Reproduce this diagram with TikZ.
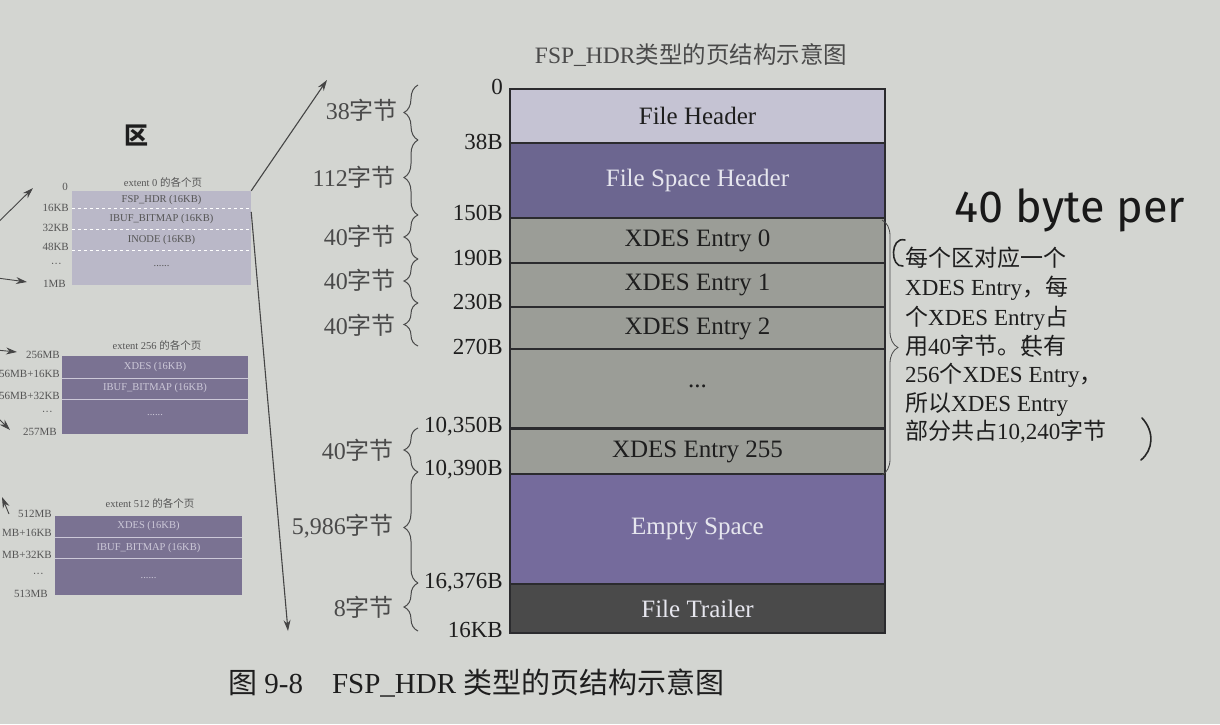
\documentclass[tikz,border=0pt]{standalone}
\usepackage{fontspec}
\setmainfont{Liberation Serif}
\newfontfamily\cjk{Noto Sans CJK SC}
\newfontfamily\hand{Fira Sans}
\usetikzlibrary{arrows.meta,decorations.pathreplacing,calc}

\newcommand\zj{{\cjk 字节}}

\definecolor{paper}{HTML}{D3D5D1}
\definecolor{rowline}{HTML}{2B2B2E}
\definecolor{fhfill}{HTML}{C5C3D3}
\definecolor{fshfill}{HTML}{6C6690}
\definecolor{xdfill}{HTML}{9B9D97}
\definecolor{esfill}{HTML}{756B9C}
\definecolor{ftfill}{HTML}{4A4A4A}
\definecolor{darktext}{HTML}{1E1E1E}
\definecolor{lighttext}{HTML}{E6E6EE}
\definecolor{sztext}{HTML}{4A4A4A}
\definecolor{arrowcol}{HTML}{454545}
\definecolor{ezfill}{HTML}{BAB8C8}
\definecolor{emfill}{HTML}{7A7292}
\definecolor{eptext}{HTML}{CCC8D8}
\definecolor{minitext}{HTML}{555555}

\tikzset{
  row/.style={draw=rowline, line width=1.8pt, minimum width=375pt, inner sep=0pt,
    font=\fontsize{25}{29}\selectfont},
  off/.style={anchor=east, inner sep=0pt, text=darktext, font=\fontsize{23}{27}\selectfont},
  sz/.style={anchor=east, inner sep=0pt, text=sztext, font=\fontsize{24}{28}\selectfont},
  lbrace/.style={decorate, decoration={brace, amplitude=14pt}, line width=1pt, draw=sztext},
  rbrace/.style={decorate, decoration={brace, amplitude=16pt}, line width=0.8pt, draw=sztext},
  mini/.style={inner sep=0pt, font=\fontsize{10.5}{12}\selectfont},
  minilab/.style={mini, anchor=east, text=minitext, font=\fontsize{11}{12}\selectfont},
  minibox/.style={inner sep=0pt},
  longarrow/.style={draw=arrowcol, line width=1.1pt, -{Stealth[length=11pt,width=7pt]}},
  ann/.style={anchor=west, inner sep=0pt, text=darktext, font=\fontsize{23}{27}\selectfont},
  pen/.style={draw=black!85, line width=1.6pt, line cap=round},
}

\begin{document}
\begin{tikzpicture}[x=1pt,y=-1pt]
\useasboundingbox (0,0) rectangle (1220,724);
\fill[paper] (0,0) rectangle (1220,724);

% ---- page structure column ----
\node[row, fill=fhfill,  minimum height=54pt, text=darktext]  (fh)   at (697.5,116)   {File Header};
\node[row, fill=fshfill, minimum height=75pt, text=lighttext] (fsh)  at (697.5,180.5) {File Space Header};
\node[row, fill=xdfill,  minimum height=45pt, text=darktext]  (x0)   at (697.5,240.5) {XDES Entry 0};
\node[row, fill=xdfill,  minimum height=44pt, text=darktext]  (x1)   at (697.5,285)   {XDES Entry 1};
\node[row, fill=xdfill,  minimum height=43pt, text=darktext]  (x2)   at (697.5,328.5) {XDES Entry 2};
\node[row, fill=xdfill,  minimum height=79pt, text=darktext]  (xd)   at (697.5,388.5) {\raisebox{4pt}{...}};
\node[row, fill=xdfill,  minimum height=45pt, text=darktext]  (x255) at (697.5,451.5) {XDES Entry 255};
\node[row, fill=esfill,  minimum height=110pt, text=lighttext] (es)  at (697.5,529)   {Empty Space};
\node[row, fill=ftfill,  minimum height=49pt, text=lighttext] (ft)   at (697.5,608.5) {File Trailer};

% title and caption
\node[inner sep=0pt, text=sztext, font=\fontsize{23.5}{27}\selectfont] (title) at (691,55)
  {FSP\_HDR{\cjk 类型的页结构示意图}};
\node[anchor=west, inner sep=0pt, text=darktext, font=\fontsize{29}{33}\selectfont] (caption) at (228,683)
  {{\cjk 图} 9-8\hspace{1em}FSP\_HDR {\cjk 类型的页结构示意图}};

% ---- byte offsets ----
\node[off] (o0)     at (503,87)  {0};
\node[off] (o38)    at (503,142) {38B};
\node[off] (o150)   at (503,213) {150B};
\node[off] (o190)   at (503,258) {190B};
\node[off] (o230)   at (503,302) {230B};
\node[off] (o270)   at (503,347) {270B};
\node[off] (o10350) at (503,427) {10,350B};
\node[off] (o10390) at (503,470) {10,390B};
\node[off] (o16376) at (503,583) {16,376B};
\node[off] (o16k)   at (503,630) {16KB};

% ---- size braces ----
\coordinate (b0) at (418,85);
\coordinate (b1) at (418,140);
\coordinate (b2) at (418,215);
\coordinate (b3) at (418,259);
\coordinate (b4) at (418,303);
\coordinate (b5) at (418,346);
\coordinate (b6) at (418,428);
\coordinate (b7) at (418,472);
\coordinate (b8) at (418,583);
\coordinate (b9) at (418,631);
\draw[lbrace] (b1) -- (b0);
\draw[lbrace] (b2) -- (b1);
\draw[lbrace] (b3) -- (b2);
\draw[lbrace] (b4) -- (b3);
\draw[lbrace] (b5) -- (b4);
\draw[lbrace] (b7) -- (b6);
\draw[lbrace] (b8) -- (b7);
\draw[lbrace] (b9) -- (b8);

\node[sz] (s1) at (398,110) {38\zj};
\node[sz] (s2) at (396,177) {112\zj};
\node[sz] (s3) at (396,236) {40\zj};
\node[sz] (s4) at (396,280) {40\zj};
\node[sz] (s5) at (396,325) {40\zj};
\node[sz] (s6) at (394,450) {40\zj};
\node[sz] (s7) at (394,526) {5,986\zj};
\node[sz] (s8) at (394,607) {8\zj};

% ---- XDES note ----
\coordinate (r0) at (882,220);
\coordinate (r1) at (882,475);
\draw[rbrace] (r0) -- (r1);

\node[ann] (a1) at (905,258) {\cjk 每个区对应一个};
\node[ann] (a2) at (905,288) {XDES Entry{\cjk ，每}};
\node[ann] (a3) at (905,318) {{\cjk 个}XDES Entry{\cjk 占}};
\node[ann] (a4) at (905,346) {{\cjk 用}40{\cjk 字节。共有}};
\node[ann] (a5) at (905,375) {256{\cjk 个}XDES Entry{\cjk ，}};
\node[ann] (a6) at (905,404) {{\cjk 所以}XDES Entry};
\node[ann] (a7) at (905,432) {{\cjk 部分共占}10,240{\cjk 字节}};

% pen notes
\node[inner sep=0pt, text=black!90, font=\hand\fontsize{45}{49}\selectfont] (hw) at (1070,210) {40 byte per};
\draw[pen] (905,240) .. controls (890,236) and (890,268) .. (903,266);
\draw[pen] (1031,336) .. controls (1020,338) and (1021,356) .. (1033,356);
\draw[pen] (1142,418) .. controls (1155,432) and (1153,450) .. (1141,460);

% ---- extent overviews ----
\node[inner sep=0pt, text=darktext, font=\cjk\bfseries\fontsize{24}{26}\selectfont] (qu) at (136,135) {区};

% extent 0
\node[mini, text=minitext] (t0) at (163,182) {extent 0 {\cjk 的各个页}};
\node[minibox, fill=ezfill, minimum width=179pt, minimum height=94pt] (e0) at (161.5,238) {};
\foreach \yy in {208,229,250} \draw[white, dashed, line width=0.7pt] (e0.west |- 0,\yy) -- (e0.east |- 0,\yy);
\node[mini, text=minitext] (e0r1) at (161.5,200) {FSP\_HDR (16KB)};
\node[mini, text=minitext] (e0r2) at (161.5,219) {IBUF\_BITMAP (16KB)};
\node[mini, text=minitext] (e0r3) at (161.5,240) {INODE (16KB)};
\node[mini, text=minitext] (e0r4) at (161.5,266) {......};
\node[minilab] (l00) at (68,187) {0};
\node[minilab] (l01) at (69,208) {16KB};
\node[minilab] (l02) at (69,228) {32KB};
\node[minilab] (l03) at (69,247) {48KB};
\node[minilab] (l04) at (62,265) {···};
\node[minilab] (l05) at (66,284) {1MB};

% extent 256
\node[mini, text=minitext] (t256) at (157,345) {extent 256 {\cjk 的各个页}};
\node[minibox, fill=emfill, minimum width=186pt, minimum height=78pt] (e256) at (155,395) {};
\foreach \yy in {378,399} \draw[eptext, line width=0.8pt] (e256.west |- 0,\yy) -- (e256.east |- 0,\yy);
\node[mini, text=eptext] (e256r1) at (155,367) {XDES (16KB)};
\node[mini, text=eptext] (e256r2) at (155,388) {IBUF\_BITMAP (16KB)};
\node[mini, text=eptext] (e256r3) at (155,415) {......};
\node[minilab] (l10) at (60,355) {256MB};
\node[minilab] (l11) at (60,374) {56MB+16KB};
\node[minilab] (l12) at (60,396) {56MB+32KB};
\node[minilab] (l13) at (53,413) {···};
\node[minilab] (l14) at (57,432) {257MB};

% extent 512
\node[mini, text=minitext] (t512) at (150,503) {extent 512 {\cjk 的各个页}};
\node[minibox, fill=emfill, minimum width=187pt, minimum height=79pt] (e512) at (148.5,555.5) {};
\foreach \yy in {537,558} \draw[eptext, line width=0.8pt] (e512.west |- 0,\yy) -- (e512.east |- 0,\yy);
\node[mini, text=eptext] (e512r1) at (148.5,526) {XDES (16KB)};
\node[mini, text=eptext] (e512r2) at (148.5,548) {IBUF\_BITMAP (16KB)};
\node[mini, text=eptext] (e512r3) at (148.5,578) {......};
\node[minilab] (l20) at (52,514) {512MB};
\node[minilab] (l21) at (52,533) {MB+16KB};
\node[minilab] (l22) at (52,555) {MB+32KB};
\node[minilab] (l23) at (44,575) {···};
\node[minilab] (l24) at (48,594) {513MB};

% zoom arrows from the first page of extent 0
\coordinate (upend) at (327,80);
\coordinate (dnend) at (288,631);
\coordinate (e0side) at ($(e0.north east)+(0,21)$);
\draw[longarrow] (e0.north east) -- (upend);
\draw[longarrow] (e0side) -- (dnend);

% arrows entering from the left
\coordinate (f1a) at (-25,245); \coordinate (f1b) at (33,188);
\coordinate (f2a) at (-25,275); \coordinate (f2b) at (27,282);
\coordinate (f3a) at (-25,348); \coordinate (f3b) at (17,352);
\coordinate (f4a) at (-30,390); \coordinate (f4b) at (10,430);
\coordinate (f5a) at (9,514);   \coordinate (f5b) at (2,497);
\draw[longarrow, line width=0.9pt] (f1a) -- (f1b);
\draw[longarrow, line width=0.9pt] (f2a) -- (f2b);
\draw[longarrow, line width=0.9pt] (f3a) -- (f3b);
\draw[longarrow, line width=0.9pt] (f4a) -- (f4b);
\draw[longarrow, line width=0.9pt] (f5a) -- (f5b);
\end{tikzpicture}
\end{document}
